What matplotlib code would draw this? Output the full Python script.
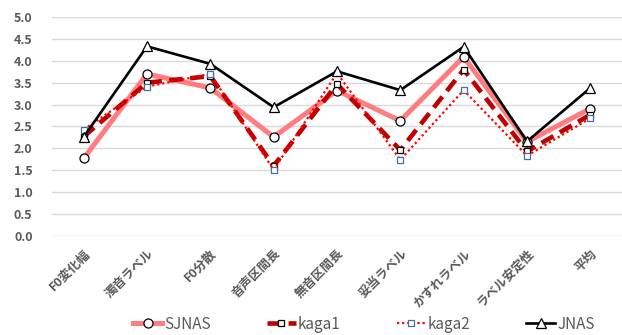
import numpy as np
import matplotlib
matplotlib.use('Agg')
import matplotlib.pyplot as plt

plt.rcParams['font.family'] = ['Noto Sans CJK JP', 'DejaVu Sans']

# categories and scores per corpus
labels = ['F0変化幅', '濁音ラベル', 'F0分散', '音声区間長', '無音区間長',
          '妥当ラベル', 'かすれラベル', 'ラベル安定性', '平均']
sjnas = [1.77, 3.70, 3.38, 2.26, 3.32, 2.63, 4.09, 2.15, 2.91]
kaga1 = [2.27, 3.50, 3.65, 1.60, 3.47, 1.96, 3.80, 1.93, 2.77]
kaga2 = [2.43, 3.41, 3.70, 1.51, 3.72, 1.74, 3.33, 1.83, 2.69]
jnas = [2.26, 4.33, 3.93, 2.94, 3.76, 3.33, 4.32, 2.16, 3.38]

x = np.arange(len(labels))

fig = plt.figure(figsize=(6.22, 3.35), dpi=100)
ax = fig.add_axes([52/622, 1-236/335, 570/622, 219/335])

ax.plot(x, sjnas, color='#FF7C80', lw=3.6, marker='o', ms=6.5,
        mfc='white', mec='black', mew=0.9, label='SJNAS')
ax.plot(x, kaga1, color='#C00000', lw=3.3, ls=(0, (3, 1.6)), marker='s', ms=5,
        mfc='white', mec='black', mew=0.9, label='kaga1')
ax.plot(x, kaga2, color='#FF0000', lw=1.6, ls=(0, (1, 1.3)), marker='s', ms=5,
        mfc='white', mec='#41719C', mew=0.9, label='kaga2')
ax.plot(x, jnas, color='black', lw=1.9, marker='^', ms=7,
        mfc='white', mec='black', mew=0.9, label='JNAS')

ax.set_xlim(-0.5, len(labels) - 0.5)
ax.set_ylim(0, 5)
ax.set_yticks(np.arange(0, 5.01, 0.5))
ax.set_yticklabels(['%.1f' % v for v in np.arange(0, 5.01, 0.5)],
                   fontsize=9, fontweight='bold', color='#595959')
ax.set_xticks(x)
ax.set_xticklabels(labels, rotation=45, ha='right', rotation_mode='anchor',
                   fontsize=9, fontweight='bold', color='#595959')
ax.tick_params(axis='both', length=0)
ax.tick_params(axis='y', pad=14)
ax.tick_params(axis='x', pad=8)
for s in ax.spines.values():
    s.set_visible(False)
ax.grid(axis='y', color='#D9D9D9', lw=1.0)
ax.set_axisbelow(True)

leg = fig.legend(loc='center', bbox_to_anchor=(0.585, 0.032), ncol=4,
                 frameon=False, fontsize=11, handlelength=1.9,
                 handletextpad=0.1, columnspacing=3.7,
                 borderpad=0.1)
for t in leg.get_texts():
    t.set_color('#595959')

fig.savefig('out.png', dpi=100)
